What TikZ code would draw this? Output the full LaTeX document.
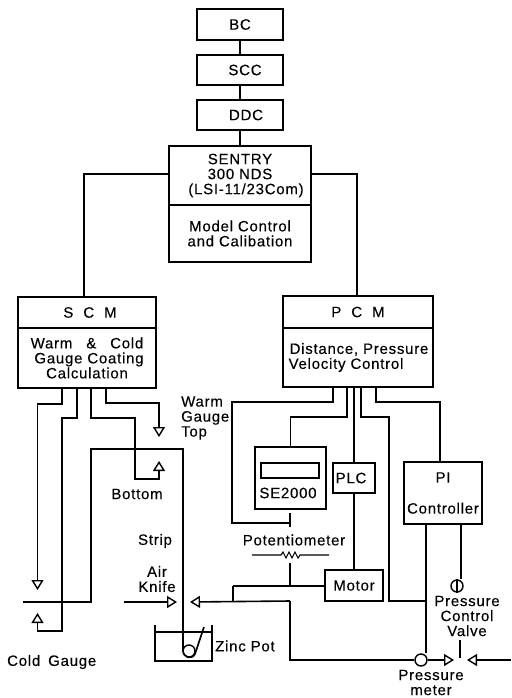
\documentclass[tikz,border=0pt]{standalone}
\usepackage{fontspec}
\setmainfont[LetterSpace=5,FakeBold=0.25]{Liberation Sans}
\usetikzlibrary{arrows.meta}
\tikzset{
  x=1pt,y=-1pt,
  every node/.style={font=\fontsize{15}{15}\selectfont,inner sep=0pt,align=center},
  box/.style={draw,line width=1.6pt,rectangle,minimum width=#1,outer sep=0pt},
  wire/.style={line width=1.6pt,line join=miter},
  thin wire/.style={line width=1.1pt},
  tip/.style={-{Triangle[open,length=10pt,width=12pt,line width=1.4pt]}}
}
\begin{document}
\begin{tikzpicture}
\useasboundingbox (0,0) rectangle (511,698);
% upper chain
\node[box=86pt,minimum height=31pt] (bc) at (240,24.5) {BC};
\node[box=86pt,minimum height=30pt] (scc) at (240,70) {\hspace*{10pt}SCC};
\node[box=86pt,minimum height=30pt] (ddc) at (240,115) {\hspace*{12pt}DDC};
\node[box=142pt,minimum height=59pt] (sentry) at (240,175.5) {SENTRY\\300 NDS\\\hspace*{12pt}(LSI-11/23Com)};
\node[box=142pt,minimum height=57pt] (model) at (240,233.5) {Model Control\\and Calibation};
% modules
\node[box=138pt,minimum height=31pt] (scmh) at (87,312.5) {\hspace*{6pt}S\hspace{10pt}C\hspace{10pt}M};
\node[box=138pt,minimum height=60pt] (scm) at (87,358) {Warm\hspace{9pt} \& \hspace{9pt}Cold\\\hspace*{4pt}Gauge Coating\\Calculation};
\node[box=150pt,minimum height=32pt] (pcmh) at (358,312) {P\hspace{10pt}C\hspace{10pt}M};
\node[box=150pt,minimum height=59pt] (pcm) at (358,357.5) {\hspace*{2pt}Distance, Pressure\\[0pt]\hspace*{-24pt}Velocity Control};
% lower boxes
\node[box=71pt,minimum height=62pt] (se) at (290.5,478) {};
\node[draw,line width=1.3pt,minimum width=58pt,minimum height=15pt,outer sep=0pt] (disp) at (290,470.5) {};
\node (setxt) at (288,493) {SE2000};
\node[box=42pt,minimum height=30pt] (plc) at (354,478) {\hspace*{-6pt}PLC};
\node[box=78pt,minimum height=62pt] (pi) at (443,493) {PI\\[16pt]Controller};
\node[box=58pt,minimum height=31pt] (motor) at (354,585.5) {Motor};
% free labels
\node[anchor=west,align=left] (warm) at (181,418) {Warm\\Gauge\\Top};
\node (bottom) at (137,494) {Bottom};
\node (strip) at (155,541) {Strip};
\node (air) at (157,579) {Air\\Knife};
\node[anchor=west] (zinc) at (215,646) {Zinc Pot};
\node[anchor=west] (cold) at (7,662) {Cold\hspace{3pt} Gauge};
\node (pot) at (294,540) {Potentiometer};
\node (pcv) at (467,616) {Pressure\\Control\\Valve};
\node (pm) at (431,682.5) {Pressure\\meter};
% guide coordinates
\coordinate (xa) at (62,0); \coordinate (xb) at (77,0); \coordinate (xc) at (91,0); \coordinate (xd) at (106,0);
\coordinate (xp1) at (333,0); \coordinate (xp2) at (347,0); \coordinate (xp4) at (361,0); \coordinate (xp5) at (376,0);
\coordinate (xpi) at (426,0); \coordinate (xv) at (461,0);
% chain connectors
\draw[wire] (bc.south) -- (scc.north);
\draw[wire] (scc.south) -- (ddc.north);
\draw[wire] (ddc.south) -- (sentry.north);
\coordinate (sl) at (84,174); \coordinate (sr) at (357,174);
\draw[wire] (sentry.west |- sl) -- (sl) -- (scmh.north -| sl);
\draw[wire] (sentry.east |- sr) -- (sr) -- (pcmh.north -| sr);
% SCM wires
\coordinate (g1) at (37.5,404); \coordinate (g1t) at (37.5,590);
\coordinate (g2) at (62,418); \coordinate (g2b) at (62,631); \coordinate (g2c) at (37.5,631); \coordinate (g2t) at (37.5,613);
\coordinate (g3) at (91,418); \coordinate (g3a) at (135,418); \coordinate (g3b) at (135,479); \coordinate (g3c) at (159,479); \coordinate (g3t) at (159,461);
\coordinate (g4) at (106,403); \coordinate (g4a) at (159,403); \coordinate (g4t) at (159,437);
\draw[wire,tip] (scm.south -| xa) -- (xa |- g1) -- (g1) -- (g1t);
\draw[wire,tip] (scm.south -| xb) -- (xb |- g2) -- (g2) -- (g2b) -- (g2c) -- (g2t);
\draw[wire,tip] (scm.south -| xc) -- (g3) -- (g3a) -- (g3b) -- (g3c) -- (g3t);
\draw[wire,tip] (scm.south -| xd) -- (g4) -- (g4a) -- (g4t);
% strip
\coordinate (s0) at (23,602); \coordinate (s1) at (91,602); \coordinate (s2) at (91,449); \coordinate (s3) at (183,449); \coordinate (s4) at (183,650);
\coordinate (s5) at (204,627);
\draw[wire] (s0) -- (s1) -- (s2) -- (s3) -- (s4) .. controls (183,658) and (192,660) .. (195,654) -- (s5);
% pot
\node[draw,circle,line width=1.4pt,minimum size=12pt] (roller) at (189,651) {};
\coordinate (p1) at (155,625); \coordinate (p2) at (155,661); \coordinate (p3) at (212,661); \coordinate (p4) at (212,625);
\draw[wire] (p1) -- (p2) -- (p3) -- (p4);
\draw[wire] (155,632) -- (212,632);
% air knife
\coordinate (ak0) at (124,602); \coordinate (ak1) at (177,602);
\draw[wire,tip] (ak0) -- (ak1);
% PCM wires
\coordinate (w1) at (232,402); \coordinate (w1b) at (232,523); \coordinate (w1c) at (290,523);
\coordinate (wt) at (290,513); \coordinate (wu) at (290,527);
\draw[wire] (pcm.south -| xp1) -- (xp1 |- w1) -- (w1) -- (w1b) -- (w1c);
\draw[wire] (wt) -- (wu);
\coordinate (w2) at (347,417);
\draw[wire] (pcm.south -| xp2) -- (w2) -- (w2 -| se.north) -- (se.north);
\draw[wire] (pcm.south -| plc.north) -- (plc.north);
\draw[wire] (plc.south) -- (motor.north);
\coordinate (w4) at (361,417); \coordinate (w4a) at (389,417); \coordinate (w4b) at (389,601);
\draw[wire] (pcm.south -| xp4) -- (w4) -- (w4a) -- (w4b) -- (w4b -| xpi);
\coordinate (w5) at (376,402); \coordinate (w5a) at (440,402);
\draw[wire] (pcm.south -| xp5) -- (w5) -- (w5a) -- (pi.north -| w5a);
% potentiometer
\coordinate (r0) at (252,555); \coordinate (r1) at (329,555);
\draw[thin wire] (r0) -- (281,555) -- (283,552) -- (286,558) -- (289,552) -- (292,558) -- (295,552) -- (298,558) -- (300,555) -- (r1);
\coordinate (r2) at (290,563); \coordinate (r3) at (290,586);
\draw[wire] (r2) -- (r3);
% knife right
\coordinate (k0) at (190,602); \coordinate (k1) at (233,602); \coordinate (k2) at (233,586);
\coordinate (k3) at (290,601); \coordinate (k4) at (290,660);
\draw[wire] (k2) -- (motor.west |- k2);
\draw[wire] (k1) -- (k2);
\draw[wire,tip] (k3) -- (k0);
% pressure line
\node[draw,circle,line width=1.4pt,minimum size=12pt] (meter) at (421,660) {};
\draw[wire] (k3) -- (k4) -- (meter.west);
\coordinate (t1) at (454,660); \coordinate (t2) at (467,660); \coordinate (e) at (511,660);
\draw[wire,tip] (meter.east) -- (t1);
\draw[wire,tip] (e) -- (t2);
\draw[wire] (pi.south -| xpi) -- (meter.north -| xpi);
\coordinate (st0) at (460,640); \coordinate (st1) at (460,658);
\draw[wire] (st0) -- (st1);
% valve
\node[draw,circle,line width=1.4pt,minimum size=12pt] (valve) at (457,586) {};
\draw[thin wire] (valve.north) -- (valve.south);
\draw[wire] (pi.south -| xv) -- (valve.north -| xv);
\end{tikzpicture}
\end{document}
